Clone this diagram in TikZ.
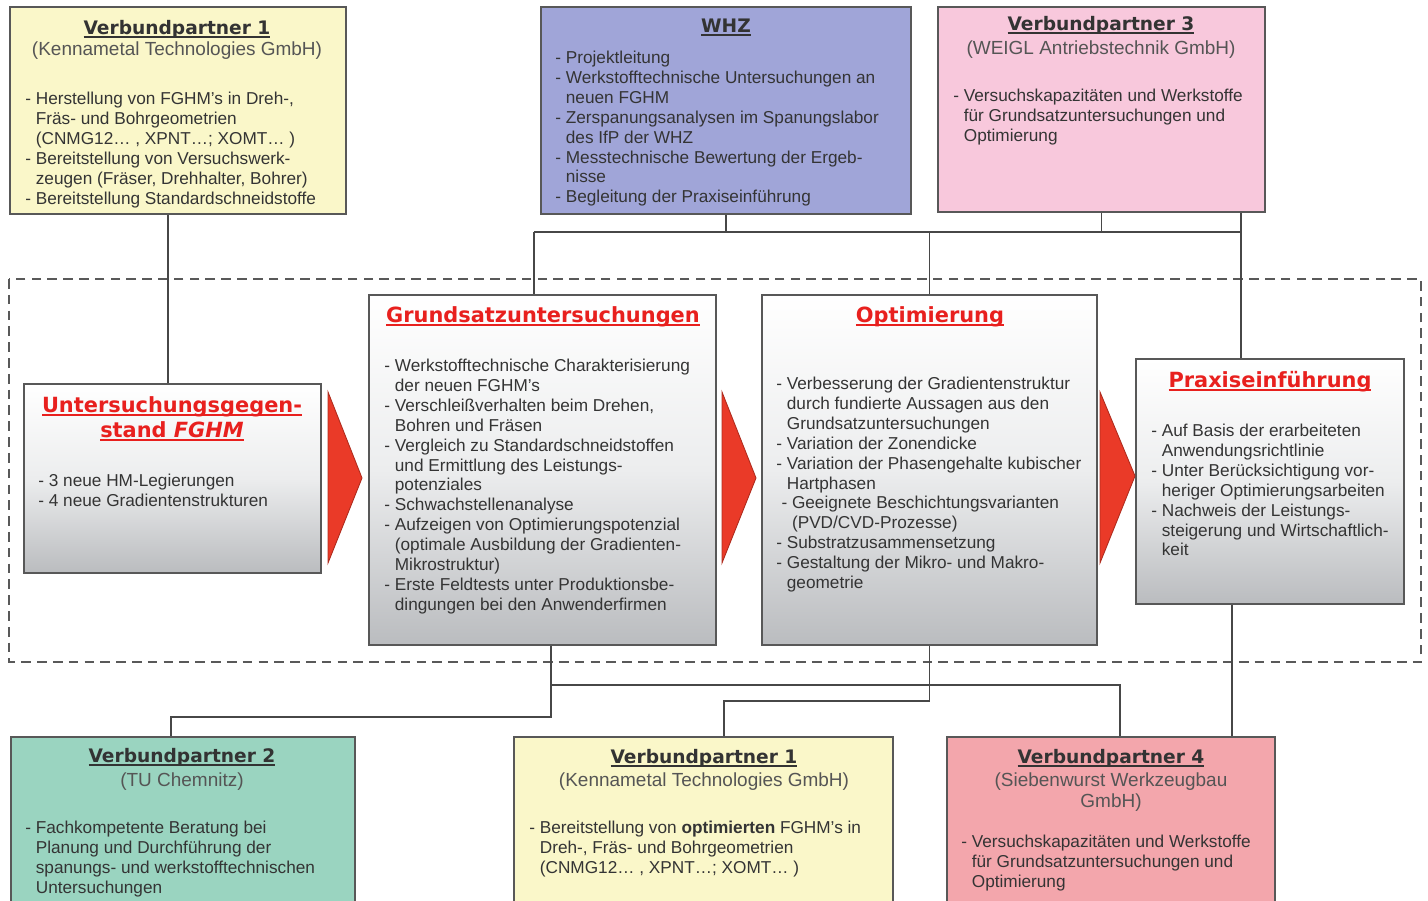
\documentclass[tikz,border=0pt]{standalone}
\usepackage{fontspec}
\setmainfont{Liberation Sans}
\newfontfamily\headfont{DejaVu Sans}
\usetikzlibrary{fit}

\definecolor{vpyellow}{RGB}{250,247,201}
\definecolor{whzblue}{RGB}{160,165,216}
\definecolor{vppink}{RGB}{248,200,220}
\definecolor{vpgreen}{RGB}{154,212,192}
\definecolor{vprose}{RGB}{243,166,172}
\definecolor{arrred}{RGB}{234,58,40}
\definecolor{titred}{RGB}{232,32,30}
\definecolor{boxline}{RGB}{88,88,88}
\definecolor{txtgray}{RGB}{52,52,52}
\definecolor{subgray}{RGB}{85,85,85}
\definecolor{shadelo}{RGB}{186,188,191}
\definecolor{shademid}{RGB}{236,237,238}

\newcommand{\ulin}[1]{\setbox0\hbox{#1}\rlap{\rule[-1.6pt]{\wd0}{0.9pt}}\box0}
\newcommand{\ind}{\hphantom{- }}

\tikzset{
  partner/.style={draw=boxline, line width=0.8pt, inner sep=0pt, fill=#1},
  phase/.style={draw=boxline, line width=0.8pt, inner sep=0pt, top color=white, bottom color=shadelo, middle color=shademid},
  vptitle/.style={anchor=base, inner sep=0pt, text=black!80, font=\headfont\bfseries\fontsize{10.6}{12}\selectfont},
  vpsub/.style={anchor=base, inner sep=0pt, text=subgray, font=\fontsize{10.8}{12.4}\selectfont},
  phtitle/.style={anchor=base, inner sep=0pt, text=titred, font=\headfont\bfseries\fontsize{11.9}{14.2}\selectfont},
  body/.style={anchor=north west, inner sep=0pt, text=txtgray, align=left, font=\fontsize{9.8}{11.3}\selectfont},
  conn/.style={draw=black!72, line width=0.8pt},
  redarrow/.style={fill=arrred, draw=arrred!75!black, line width=0.5pt},
  projframe/.style={draw=black!65, line width=1.1pt, dash pattern=on 5.5pt off 3.5pt},
}

\begin{document}
\begin{tikzpicture}[x=0.02cm, y=-0.02cm]
    \useasboundingbox (0,0) rectangle (1428,901);
    \clip (0,0) rectangle (1428,901);

    % partners above
    \node[partner=vpyellow, fit={(10,7) (346,214)}] (vpa) {};
    \node[partner=whzblue, fit={(541,7) (911,214)}] (whz) {};
    \node[partner=vppink, fit={(938,7) (1265,212)}] (vpc) {};

    % project stages
    \draw[projframe] (9,279) rectangle (1421,662);
    \node[phase, fit={(24,384) (321,573)}] (unt) {};
    \node[phase, fit={(369,295) (716,645)}] (grund) {};
    \node[phase, fit={(762,295) (1097,645)}] (opt) {};
    \node[phase, fit={(1136,359) (1404,604)}] (prax) {};
    \fill[redarrow] (328,392) -- (362,478) -- (328,563) -- cycle;
    \fill[redarrow] (722,392) -- (756,478) -- (722,563) -- cycle;
    \fill[redarrow] (1100,392) -- (1135,476) -- (1100,563) -- cycle;

    % partners below
    \node[partner=vpgreen, fit={(11,737) (355,915)}] (vpb) {};
    \node[partner=vpyellow, fit={(514,737) (893,915)}] (vpd) {};
    \node[partner=vprose, fit={(947,737) (1275,915)}] (vpe) {};

    % connectors
    \coordinate (ta) at (534,232);
    \coordinate (tb) at (1241,232);
    \coordinate (tu) at (168,0);
    \draw[conn] (tu |- unt.north) -- (tu |- vpa.south);
    \draw[conn] (ta) -- (tb);
    \draw[conn] (ta) -- (ta |- grund.north);
    \draw[conn] (whz.south) -- (whz.south |- ta);
    \draw[conn] (vpc.south) -- (vpc.south |- ta);
    \draw[conn] (opt.north) -- (opt.north |- ta);
    \draw[conn] (tb |- vpc.south) -- (tb |- prax.north);
    \coordinate (ba) at (551,685);
    \coordinate (bb) at (1120,685);
    \coordinate (bl) at (551,717);
    \coordinate (bc) at (171,717);
    \coordinate (bo) at (930,701);
    \coordinate (bp) at (724,701);
    \coordinate (pr) at (1232,0);
    \draw[conn] (bl |- grund.south) -- (bl) -- (bc) -- (bc |- vpb.north);
    \draw[conn] (ba) -- (bb) -- (bb |- vpe.north);
    \draw[conn] (opt.south) -- (opt.south |- bo) -- (bp) -- (bp |- vpd.north);
    \draw[conn] (pr |- prax.south) -- (pr |- vpe.north);

    % texts
    \node[vptitle] at (177,35) {\ulin{Verbundpartner 1}};
    \node[vpsub] at (177,56) {(Kennametal Technologies GmbH)};
    \node[body] at (25,92) {- Herstellung von FGHM's in Dreh-,\\ \ind Fräs- und Bohrgeometrien\\ \ind (CNMG12… , XPNT…; XOMT… )\\- Bereitstellung von Versuchswerk-\\ \ind zeugen (Fräser, Drehhalter, Bohrer)\\- Bereitstellung Standardschneidstoffe};

    \node[vptitle] at (726,33) {\ulin{WHZ}};
    \node[body] at (555,51) {- Projektleitung\\- Werkstofftechnische Untersuchungen an\\ \ind neuen FGHM\\- Zerspanungsanalysen im Spanungslabor\\ \ind des IfP der WHZ\\- Messtechnische Bewertung der Ergeb-\\ \ind nisse\\- Begleitung der Praxiseinführung};

    \node[vptitle] at (1101,31) {\ulin{Verbundpartner 3}};
    \node[vpsub] at (1101,55) {(WEIGL Antriebstechnik GmbH)};
    \node[body] at (953,89) {- Versuchskapazitäten und Werkstoffe\\ \ind für Grundsatzuntersuchungen und\\ \ind Optimierung};

    \node[phtitle] at (172,413) {\ulin{Untersuchungsgegen-}};
    \node[phtitle] at (172,438) {\ulin{stand \textit{FGHM}}};
    \node[body] at (38,474) {- 3 neue HM-Legierungen\\- 4 neue Gradientenstrukturen};

    \node[phtitle] at (543,323) {\ulin{Grundsatzuntersuchungen}};
    \node[body] at (384,359) {- Werkstofftechnische Charakterisierung\\ \ind der neuen FGHM's\\- Verschleißverhalten beim Drehen,\\ \ind Bohren und Fräsen\\- Vergleich zu Standardschneidstoffen\\ \ind und Ermittlung des Leistungs-\\ \ind potenziales\\- Schwachstellenanalyse\\- Aufzeigen von Optimierungspotenzial\\ \ind (optimale Ausbildung der Gradienten-\\ \ind Mikrostruktur)\\- Erste Feldtests unter Produktionsbe-\\ \ind dingungen bei den Anwenderfirmen};

    \node[phtitle] at (930,323) {\ulin{Optimierung}};
    \node[body] at (776,377) {- Verbesserung der Gradientenstruktur\\ \ind durch fundierte Aussagen aus den\\ \ind Grundsatzuntersuchungen\\- Variation der Zonendicke\\- Variation der Phasengehalte kubischer\\ \ind Hartphasen\\ \hspace*{0.3em}- Geeignete Beschichtungsvarianten\\ \hspace*{0.3em}\ind (PVD/CVD-Prozesse)\\- Substratzusammensetzung\\- Gestaltung der Mikro- und Makro-\\ \ind geometrie};

    \node[phtitle] at (1270,388) {\ulin{Praxiseinführung}};
    \node[body] at (1151,424) {- Auf Basis der erarbeiteten\\ \ind Anwendungsrichtlinie\\- Unter Berücksichtigung vor-\\ \ind heriger Optimierungsarbeiten\\- Nachweis der Leistungs-\\ \ind steigerung und Wirtschaftlich-\\ \ind keit};

    \node[vptitle] at (182,763) {\ulin{Verbundpartner 2}};
    \node[vpsub] at (182,787) {(TU Chemnitz)};
    \node[body] at (25,821) {- Fachkompetente Beratung bei\\ \ind Planung und Durchführung der\\ \ind spanungs- und werkstofftechnischen\\ \ind Untersuchungen};

    \node[vptitle] at (704,764) {\ulin{Verbundpartner 1}};
    \node[vpsub] at (704,787) {(Kennametal Technologies GmbH)};
    \node[body] at (529,821) {- Bereitstellung von \textbf{optimierten} FGHM's in\\ \ind Dreh-, Fräs- und Bohrgeometrien\\ \ind (CNMG12… , XPNT…; XOMT… )};

    \node[vptitle] at (1111,764) {\ulin{Verbundpartner 4}};
    \node[vpsub] at (1111,787) {(Siebenwurst Werkzeugbau};
    \node[vpsub] at (1111,808) {GmbH)};
    \node[body] at (961,835) {- Versuchskapazitäten und Werkstoffe\\ \ind für Grundsatzuntersuchungen und\\ \ind Optimierung};
\end{tikzpicture}
\end{document}
